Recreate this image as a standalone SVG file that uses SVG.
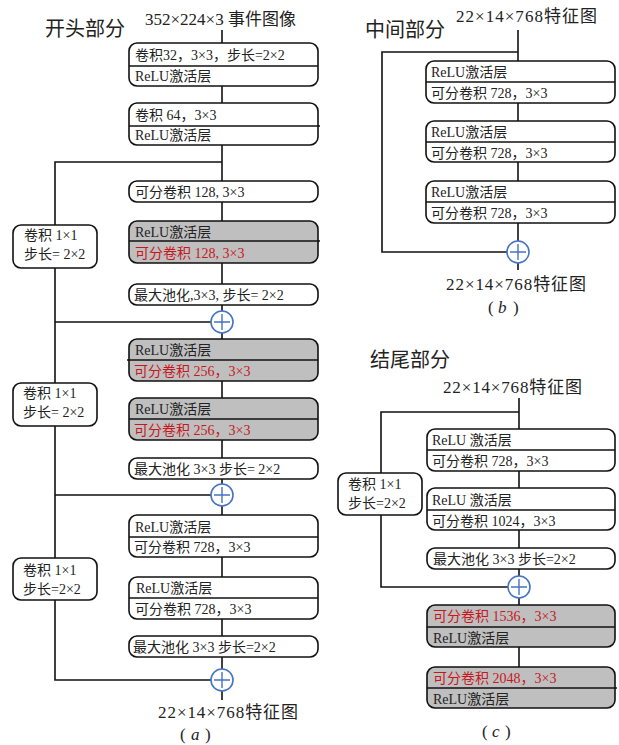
<svg xmlns="http://www.w3.org/2000/svg" width="619" height="745" viewBox="0 0 619 745">
<style>
text{font-family:"Liberation Serif","Noto Sans CJK SC",serif;fill:#222}
.t{font-size:14px}
.h{font-size:20px}
.m{font-size:17px}
.red{fill:#C8161D}
.box{fill:#fff;stroke:#111;stroke-width:1.6}
.gray{fill:#BFBFBF;stroke:#111;stroke-width:1.6}
.div{stroke:#111;stroke-width:1.4}
.ln{fill:none;stroke:#111;stroke-width:1.6}
.pc{fill:#fff;stroke:#4472C4;stroke-width:1.6}
.px{stroke:#4472C4;stroke-width:1.4}
</style>
<defs>
<g id="plus"><circle class="pc" cx="0" cy="0" r="11"/><path class="px" d="M-8 0H8M0 -8V8"/></g>
</defs>

<!-- headings -->
<text class="h" x="45" y="36">开头部分</text>
<text class="m" x="145" y="25">352×224×3 事件图像</text>
<text class="h" x="365" y="37">中间部分</text>
<text class="m" x="456" y="22" textLength="141" lengthAdjust="spacing">22×14×768特征图</text>
<text class="h" x="370" y="367">结尾部分</text>
<text class="m" x="443" y="393" textLength="139" lengthAdjust="spacing">22×14×768特征图</text>

<g id="connectors">
<path class="ln" d="M222 30V700"/>
<path class="ln" d="M222 162H55V680H211"/>
<path class="ln" d="M55 322H211M55 495H211"/>
<path class="ln" d="M518 30V270"/>
<path class="ln" d="M518 52H382V252H507"/>
<path class="ln" d="M519 398V667"/>
<path class="ln" d="M519 412H381V587H508"/>
</g>

<!-- panel a -->
<g id="a1"><rect class="box" x="129" y="43" width="189" height="43" rx="8"/><path class="div" d="M129 66H318"/>
<text class="t" x="135" y="60">卷积32，3×3，步长=2×2</text><text class="t" x="135" y="81">ReLU激活层</text></g>
<g id="a2"><rect class="box" x="129" y="103" width="189" height="42" rx="8"/><path class="div" d="M129 126H320"/>
<text class="t" x="135" y="120">卷积 64，3×3</text><text class="t" x="135" y="140">ReLU激活层</text></g>
<g id="a3"><rect class="box" x="129" y="181" width="189" height="21" rx="8"/>
<text class="t" x="135" y="197">可分卷积 128, 3×3</text></g>
<g id="a4"><rect class="gray" x="129" y="221" width="189" height="42" rx="8"/><path class="div" d="M129 241H320"/>
<text class="t" x="135" y="237">ReLU激活层</text><text class="t red" x="135" y="258">可分卷积 128, 3×3</text></g>
<g id="a5"><rect class="box" x="129" y="284" width="189" height="21" rx="8"/>
<text class="t" x="134" y="300">最大池化,3×3, 步长= 2×2</text></g>
<g id="a6"><rect class="gray" x="129" y="339" width="189" height="42" rx="8"/><path class="div" d="M127 360H318"/>
<text class="t" x="135" y="355">ReLU激活层</text><text class="t red" x="134" y="376">可分卷积 256，3×3</text></g>
<g id="a7"><rect class="gray" x="129" y="398" width="189" height="42" rx="8"/><path class="div" d="M129 419H318"/>
<text class="t" x="135" y="414">ReLU激活层</text><text class="t red" x="134" y="435">可分卷积 256，3×3</text></g>
<g id="a8"><rect class="box" x="129" y="458" width="189" height="21" rx="8"/>
<text class="t" x="134" y="474">最大池化 3×3 步长= 2×2</text></g>
<g id="a9"><rect class="box" x="129" y="515" width="189" height="42" rx="8"/><path class="div" d="M129 537H318"/>
<text class="t" x="135" y="532">ReLU激活层</text><text class="t" x="134" y="552">可分卷积 728，3×3</text></g>
<g id="a10"><rect class="box" x="129" y="577" width="189" height="42" rx="8"/><path class="div" d="M129 598H318"/>
<text class="t" x="136" y="593">ReLU激活层</text><text class="t" x="135" y="614">可分卷积 728，3×3</text></g>
<g id="a11"><rect class="box" x="129" y="636" width="189" height="21" rx="8"/>
<text class="t" x="133" y="652">最大池化 3×3 步长=2×2</text></g>
<g id="as1"><rect class="box" x="13" y="225" width="84" height="43" rx="8"/>
<text class="t" x="24" y="240">卷积 1×1</text><text class="t" x="24" y="259">步长= 2×2</text></g>
<g id="as2"><rect class="box" x="13" y="383" width="84" height="43" rx="8"/>
<text class="t" x="23" y="398">卷积 1×1</text><text class="t" x="23" y="417">步长= 2×2</text></g>
<g id="as3"><rect class="box" x="13" y="558" width="84" height="42" rx="8"/>
<text class="t" x="23" y="575">卷积 1×1</text><text class="t" x="23" y="594">步长=2×2</text></g>
<g id="ap1"><use href="#plus" x="222" y="322"/></g>
<g id="ap2"><use href="#plus" x="222" y="495"/></g>
<g id="ap3"><use href="#plus" x="222" y="680"/></g>
<text class="m" x="158" y="718" textLength="140" lengthAdjust="spacing">22×14×768特征图</text>
<text class="m" y="740"><tspan x="180">(</tspan><tspan x="191" font-style="italic">a</tspan><tspan x="205">)</tspan></text>

<!-- panel b -->
<g id="b1"><rect class="box" x="426" y="61" width="189" height="42" rx="8"/><path class="div" d="M426 82H615"/>
<text class="t" x="431" y="77">ReLU激活层</text><text class="t" x="431" y="98">可分卷积 728，3×3</text></g>
<g id="b2"><rect class="box" x="426" y="121" width="189" height="41" rx="8"/><path class="div" d="M426 142H615"/>
<text class="t" x="431" y="137">ReLU激活层</text><text class="t" x="431" y="158">可分卷积 728，3×3</text></g>
<g id="b3"><rect class="box" x="426" y="181" width="189" height="42" rx="8"/><path class="div" d="M426 202H615"/>
<text class="t" x="431" y="197">ReLU激活层</text><text class="t" x="431" y="218">可分卷积 728，3×3</text></g>
<g id="bp"><use href="#plus" x="518" y="252"/></g>
<text class="m" x="446" y="290" textLength="140" lengthAdjust="spacing">22×14×768特征图</text>
<text class="m" y="313"><tspan x="488">(</tspan><tspan x="498" font-style="italic">b</tspan><tspan x="513">)</tspan></text>

<!-- panel c -->
<g id="c1"><rect class="box" x="427" y="429" width="188" height="42" rx="8"/><path class="div" d="M427 450H615"/>
<text class="t" x="432" y="445">ReLU 激活层</text><text class="t" x="432" y="466">可分卷积 728，3×3</text></g>
<g id="c2"><rect class="box" x="427" y="488" width="188" height="42" rx="8"/><path class="div" d="M427 510H615"/>
<text class="t" x="432" y="505">ReLU 激活层</text><text class="t" x="432" y="526">可分卷积 1024，3×3</text></g>
<g id="c3"><rect class="box" x="427" y="548" width="188" height="21" rx="8"/>
<text class="t" x="433" y="564">最大池化 3×3 步长=2×2</text></g>
<g id="c4"><rect class="gray" x="427" y="605" width="188" height="42" rx="8"/><path class="div" d="M427 627H615"/>
<text class="t red" x="433" y="621">可分卷积 1536，3×3</text><text class="t" x="433" y="643">ReLU激活层</text></g>
<g id="c5"><rect class="gray" x="427" y="667" width="188" height="41" rx="8"/><path class="div" d="M427 688H617"/>
<text class="t red" x="433" y="683">可分卷积 2048，3×3</text><text class="t" x="433" y="704">ReLU激活层</text></g>
<g id="cs"><rect class="box" x="338" y="473" width="84" height="42" rx="8"/>
<text class="t" x="348" y="489">卷积 1×1</text><text class="t" x="348" y="508">步长=2×2</text></g>
<g id="cp"><use href="#plus" x="519" y="587"/></g>
<text class="m" y="737"><tspan x="482">(</tspan><tspan x="492" font-style="italic">c</tspan><tspan x="505">)</tspan></text>
</svg>
